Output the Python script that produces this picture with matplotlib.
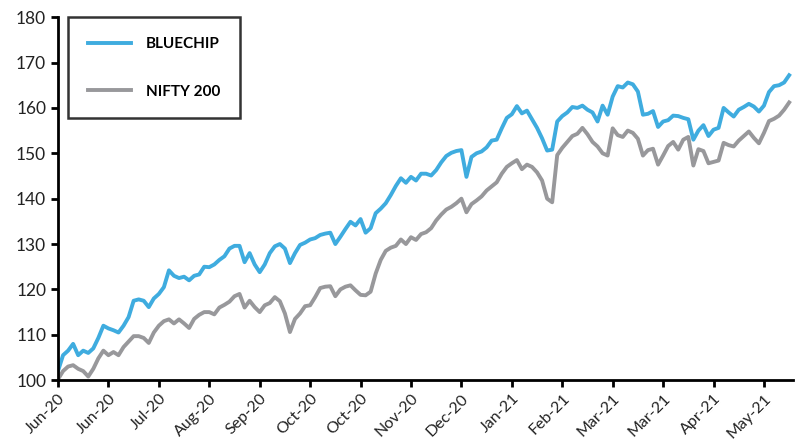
import numpy as np
import matplotlib
matplotlib.use("Agg")
import matplotlib.pyplot as plt

plt.rcParams["font.family"] = ["Lato", "DejaVu Sans"]

# tick labels (one every 10 samples)
tick_labels = ["Jun-20", "Jun-20", "Jul-20", "Aug-20", "Sep-20", "Oct-20", "Oct-20",
               "Nov-20", "Dec-20", "Jan-21", "Feb-21", "Mar-21", "Mar-21", "Apr-21", "May-21"]

# values, rebased to 100
bluechip = [
    102.0, 105.5, 106.5, 108.0, 105.5, 106.5, 106.0, 107.0, 109.3, 112.0,
    111.4, 111.0, 110.5, 112.0, 113.9, 117.5, 117.8, 117.5, 116.1, 118.0,
    119.0, 120.5, 124.2, 123.0, 122.5, 122.8, 122.0, 123.0, 123.3, 125.0,
    124.9, 125.5, 126.5, 127.3, 129.0, 129.6, 129.6, 126.0, 128.0, 125.5,
    123.8, 125.5, 128.0, 129.5, 130.0, 129.0, 125.8, 128.0, 129.8, 130.3,
    131.0, 131.3, 132.0, 132.3, 132.5, 130.0, 131.6, 133.3, 134.9, 134.1,
    135.5, 132.5, 133.5, 136.8, 137.8, 139.0, 140.8, 142.8, 144.5, 143.5,
    144.8, 144.0, 145.5, 145.5, 145.1, 146.3, 148.0, 149.4, 150.1, 150.5,
    150.7, 144.8, 149.2, 150.0, 150.4, 151.3, 152.8, 153.0, 155.5, 157.8,
    158.6, 160.4, 158.8, 159.4, 157.5, 155.6, 153.3, 150.6, 150.8, 157.0,
    158.2, 159.0, 160.2, 160.0, 160.5, 159.6, 159.0, 157.0, 160.5, 158.5,
    162.5, 164.8, 164.5, 165.6, 165.2, 163.6, 158.5, 158.7, 159.3, 155.8,
    157.0, 157.3, 158.3, 158.2, 157.8, 157.5, 153.0, 155.0, 156.2, 153.8,
    155.2, 155.6, 160.0, 159.0, 158.1, 159.6, 160.2, 160.9, 160.3, 159.2,
    160.5, 163.5, 164.8, 165.0, 165.6, 167.2,
]

nifty200 = [
    100.2, 102.0, 103.0, 103.3, 102.5, 102.0, 100.8, 102.5, 104.8, 106.5,
    105.5, 106.2, 105.5, 107.3, 108.5, 109.7, 109.7, 109.3, 108.2, 110.5,
    112.0, 113.0, 113.4, 112.5, 113.4, 112.5, 111.5, 113.5, 114.4, 115.0,
    115.0, 114.5, 116.0, 116.6, 117.3, 118.5, 119.0, 116.0, 117.5, 116.1,
    115.0, 116.5, 117.0, 118.3, 117.4, 114.7, 110.6, 113.5, 114.7, 116.3,
    116.5, 118.3, 120.3, 120.6, 120.7, 118.5, 120.0, 120.6, 120.9, 119.8,
    118.8, 118.7, 119.5, 123.5, 126.5, 128.5, 129.2, 129.6, 131.0, 130.0,
    131.5, 130.9, 132.2, 132.6, 133.5, 135.2, 136.5, 137.6, 138.2, 139.0,
    140.0, 137.0, 138.8, 139.6, 140.5, 141.8, 142.7, 143.6, 145.5, 147.0,
    147.8, 148.5, 146.5, 147.5, 147.0, 145.8, 144.0, 140.0, 139.2, 149.6,
    151.2, 152.5, 153.8, 154.3, 155.6, 154.2, 152.5, 151.5, 150.0, 149.5,
    155.5, 154.0, 153.6, 155.0, 154.5, 153.2, 149.5, 150.7, 151.0, 147.5,
    149.5, 151.6, 152.5, 150.8, 153.0, 153.6, 147.3, 150.9, 150.5, 147.8,
    148.1, 148.4, 152.3, 151.8, 151.5, 152.8, 153.8, 154.8, 153.4, 152.2,
    154.5, 157.1, 157.6, 158.3, 159.6, 161.2,
]

x = np.arange(len(bluechip))

fig = plt.figure(figsize=(8, 4.4), dpi=100)
ax = fig.add_axes([0.0725, 0.136, 0.919, 0.825])

ax.plot(x, bluechip, color="#3FACDF", linewidth=2.8, label="BLUECHIP", solid_joinstyle="round")
ax.plot(x, nifty200, color="#98989B", linewidth=2.8, label="NIFTY 200", solid_joinstyle="round")

ax.set_xlim(0, 145.8)
ax.set_ylim(100, 180)
ax.set_yticks(np.arange(100, 181, 10))
ax.set_xticks(np.arange(0, 10 * len(tick_labels), 10))
ax.set_xticklabels(tick_labels, rotation=45, ha="right", rotation_mode="anchor")

for s in ["top", "right"]:
    ax.spines[s].set_visible(False)
for s in ["left", "bottom"]:
    ax.spines[s].set_linewidth(2)
    ax.spines[s].set_color("black")

ax.tick_params(axis="both", direction="out", length=5, width=2, colors="black",
               labelsize=12.5, labelcolor="#222222")
ax.tick_params(axis="x", labelsize=11.5, pad=3)

leg = ax.legend(loc="upper left", bbox_to_anchor=(0.0136, 1.0), borderaxespad=0,
                frameon=True, fancybox=False, edgecolor="black", borderpad=1.3,
                labelspacing=2.2, handlelength=2.8, handletextpad=1.0,
                prop={"family": "Lato", "weight": "bold", "size": 11})
leg.get_frame().set_linewidth(1.8)

plt.savefig("out.png", dpi=100)
plt.close(fig)
